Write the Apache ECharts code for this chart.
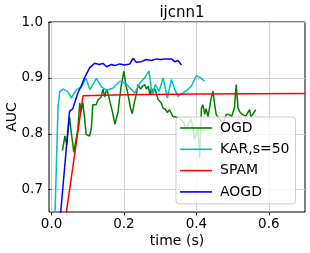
<!DOCTYPE html>
<html><head><meta charset="utf-8">
<script src="https://cdn.jsdelivr.net/npm/echarts@6/dist/echarts.min.js"></script>
<style>html,body{margin:0;padding:0;background:#fff}#c{width:310px;height:253px}</style>
</head><body><div id="c"></div>
<script>
const xTicks = [0.0, 0.2, 0.4, 0.6];
const yTicks = [0.7, 0.8, 0.9, 1.0];
const seriesNames = ['OGD', 'KAR,s=50', 'SPAM', 'AOGD'];
const ogd = [[0.030,0.770],[0.037,0.796],[0.042,0.780],[0.0497,0.830],[0.055,0.800],[0.0615,0.767],[0.0726,0.808],[0.078,0.855],[0.0817,0.840],[0.0864,0.856],[0.091,0.830],[0.0955,0.799],[0.105,0.796],[0.110,0.810],[0.114,0.852],[0.123,0.852],[0.128,0.860],[0.133,0.858],[0.137,0.866],[0.142,0.880],[0.147,0.866],[0.152,0.880],[0.157,0.870],[0.161,0.858],[0.168,0.840],[0.175,0.817],[0.179,0.814],[0.184,0.840],[0.188,0.864],[0.193,0.888],[0.200,0.912],[0.205,0.888],[0.210,0.875],[0.214,0.876],[0.218,0.846],[0.223,0.836],[0.229,0.857],[0.234,0.870],[0.239,0.888],[0.246,0.880],[0.251,0.885],[0.257,0.888],[0.262,0.880],[0.267,0.885],[0.272,0.870],[0.276,0.882],[0.280,0.874],[0.286,0.880],[0.290,0.878],[0.294,0.862],[0.303,0.855],[0.308,0.846],[0.315,0.843],[0.320,0.838],[0.326,0.843],[0.335,0.831],[0.349,0.829],[0.356,0.826],[0.365,0.820],[0.372,0.808],[0.378,0.818],[0.386,0.826],[0.395,0.790],[0.400,0.800],[0.404,0.810],[0.409,0.757],[0.414,0.846],[0.418,0.852],[0.423,0.835],[0.427,0.845],[0.432,0.830],[0.441,0.864],[0.446,0.876],[0.451,0.850],[0.455,0.834],[0.465,0.826],[0.474,0.820],[0.483,0.835],[0.492,0.834],[0.497,0.830],[0.505,0.846],[0.510,0.888],[0.515,0.846],[0.519,0.840],[0.528,0.834],[0.537,0.832],[0.547,0.843],[0.551,0.830],[0.556,0.835],[0.564,0.843]];
const kar = [[0.008,0.62],[0.018,0.849],[0.023,0.876],[0.032,0.880],[0.044,0.876],[0.055,0.864],[0.069,0.879],[0.083,0.884],[0.095,0.900],[0.106,0.879],[0.124,0.899],[0.138,0.884],[0.152,0.878],[0.170,0.882],[0.189,0.894],[0.205,0.890],[0.221,0.879],[0.230,0.873],[0.244,0.891],[0.257,0.900],[0.269,0.912],[0.278,0.870],[0.287,0.888],[0.297,0.876],[0.308,0.900],[0.320,0.864],[0.331,0.897],[0.340,0.880],[0.349,0.867],[0.363,0.873],[0.372,0.877],[0.386,0.885],[0.400,0.904],[0.412,0.900],[0.423,0.894]];
const spam = [[0.030,0.61],[0.087,0.868],[0.2,0.870],[0.4,0.871],[0.7,0.872]];
const aogd = [[0.020,0.62],[0.0497,0.840],[0.0588,0.845],[0.0726,0.873],[0.0817,0.885],[0.091,0.900],[0.105,0.918],[0.119,0.926],[0.132,0.924],[0.142,0.926],[0.152,0.920],[0.165,0.924],[0.175,0.922],[0.188,0.925],[0.202,0.923],[0.216,0.925],[0.225,0.935],[0.234,0.928],[0.248,0.929],[0.262,0.933],[0.276,0.931],[0.290,0.934],[0.303,0.933],[0.313,0.934],[0.331,0.934],[0.340,0.929],[0.349,0.931],[0.359,0.923]];
const colors = ['#008000', '#00bfbf', '#ff0000', '#0000ff'];
const allData = [ogd, kar, spam, aogd];

const font = 'DejaVu Sans';
const gridLine = {show: true, lineStyle: {color: '#d0d0d0', width: 1, type: 'solid'}};
const chart = echarts.init(document.getElementById('c'), null, {renderer: 'canvas'});
chart.setOption({
  animation: false,
  title: {text: 'ijcnn1', left: 177, top: 1, textAlign: 'center',
    textStyle: {fontFamily: font, fontSize: 15, fontWeight: 'normal', color: '#000'}},
  grid: {left: 49, right: 5, top: 22, bottom: 41, outerBoundsMode: 'none', containLabel: false,
    show: true, borderColor: '#000', borderWidth: 1, backgroundColor: 'transparent'},
  legend: {
    orient: 'vertical', left: 176, top: 117,
    padding: [3, 6, 4, 4], itemWidth: 32, itemHeight: 1.6, itemGap: 5.3, icon: 'rect',
    backgroundColor: 'rgba(255,255,255,0.8)', borderColor: '#cccccc', borderWidth: 1, borderRadius: 3,
    textStyle: {fontFamily: font, fontSize: 14, color: '#000', lineHeight: 16, padding: [0,0,0,3]},
    data: seriesNames
  },
  xAxis: {
    type: 'value', min: -0.007, max: 0.7,
    name: 'time (s)', nameLocation: 'middle', nameGap: 22, nameMoveOverlap: false,
    nameTextStyle: {fontFamily: font, fontSize: 14, color: '#000'},
    axisLine: {show: false},
    axisTick: {show: true, inside: false, length: 3.5, customValues: xTicks, lineStyle: {color: '#000', width: 0.8}},
    axisLabel: {customValues: xTicks, margin: 5, fontFamily: font, fontSize: 13.5, color: '#000', formatter: v => v.toFixed(1)},
    splitLine: gridLine
  },
  yAxis: {
    type: 'value', min: 0.66, max: 1.0,
    name: 'AUC', nameLocation: 'middle', nameGap: 30, nameMoveOverlap: false,
    nameTextStyle: {fontFamily: font, fontSize: 14, color: '#000'},
    axisLine: {show: false},
    axisTick: {show: true, inside: false, length: 3.5, customValues: yTicks, lineStyle: {color: '#000', width: 0.8}},
    axisLabel: {customValues: yTicks, margin: 6, fontFamily: font, fontSize: 13.5, color: '#000', formatter: v => v.toFixed(1)},
    splitLine: gridLine
  },
  series: seriesNames.map((n, i) => ({
    name: n, type: 'line', data: allData[i], symbol: 'none', showSymbol: false,
    clip: true, z: 2 + i,
    lineStyle: {color: colors[i], width: 1.5}, itemStyle: {color: colors[i]}
  }))
});
</script></body></html>
